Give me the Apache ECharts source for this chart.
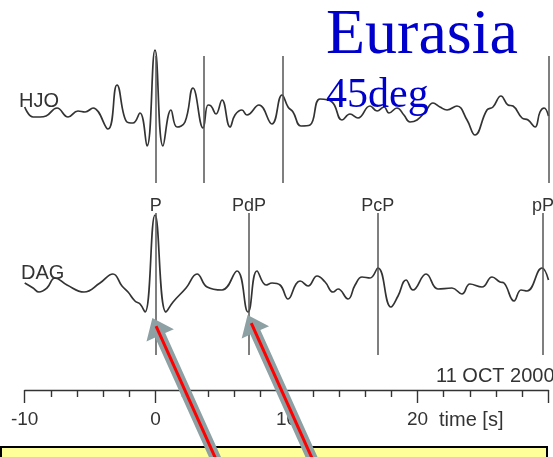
<!DOCTYPE html>
<html>
<head>
<meta charset="utf-8">
<script src="https://cdn.jsdelivr.net/npm/echarts@6/dist/echarts.min.js"></script>
<style>
  html, body { margin: 0; padding: 0; background: #fff; }
  #chart { width: 553px; height: 457px; }
</style>
</head>
<body>
<div id="chart"></div>
<script>
// Time axis (seconds relative to P arrival)
const timeMin = -10;
const timeMax = 30;
const tickLabels = ['-10', '0', '10', '20'];

// Station HJO: sample times (s) and amplitudes (arbitrary counts)
const hjoTime = [-10.0, -9.36, -8.83, -8.37, -7.53, -6.69, -5.93, -5.39, -4.78, -3.64,
  -2.95, -2.19, -1.73, -1.20, -0.66, -0.05, 0.56, 1.17, 1.63, 2.24,
  2.85, 3.62, 4.00, 4.23, 4.61, 5.07, 5.68, 6.06, 6.59, 6.97,
  7.89, 8.88, 9.65, 10.11, 10.49, 11.10, 11.79, 12.55, 13.47, 14.23,
  14.84, 15.45, 16.37, 16.91, 17.44, 17.82, 18.43, 18.96, 19.42, 19.96,
  20.57, 21.18, 21.71, 22.25, 23.01, 23.78, 24.39, 25.30, 25.76, 26.37,
  26.91, 27.29, 27.98, 28.44, 28.97, 29.35, 29.66, 30.0];
const hjoAmp = [8, -2, -2, -1, 7, -2, 4, 3, 7, -14,
  30, -7, -8, 2, -31, 65, -31, 5, -12, -7,
  27, -13, 10, 9, 1, 15, -12, 0, 5, 0,
  10, -9, 20, 8, 3, -11, -10, 16, 13, -5,
  1, -3, 9, 4, 8, 2, 7, 0, -7, -5,
  3, 12, 8, 5, 9, -5, -20, 5, 8, 19,
  10, 9, -3, -5, -12, 3, 7, -1];

// Station DAG: sample times (s) and amplitudes (arbitrary counts)
const dagTime = [-10.0, -9.36, -8.91, -8.30, -7.69, -6.77, -5.47, -4.25, -3.26, -2.57,
  -2.11, -1.58, -1.19, -0.81, -0.05, 0.79, 1.33, 2.32, 3.16, 3.93,
  5.07, 6.21, 7.05, 7.74, 8.43, 8.89, 9.50, 10.11, 10.72, 11.03,
  11.64, 12.33, 12.94, 13.55, 13.93, 14.69, 15.23, 15.76, 16.37, 16.98,
  17.97, 18.51, 19.12, 19.65, 20.65, 21.56, 22.63, 23.39, 24.00, 24.92,
  25.69, 26.30, 26.60, 27.37, 27.90, 28.36, 29.50, 30.0];
const dagAmp = [7, 2, -2, 2, 12, 5, -2, 7, 16, 4,
  -2, -11, -14, -22, 75, -22, -12, 2, 16, 3,
  0, 19, -22, 19, 5, 7, 5, -9, 6, 9,
  4, 14, 8, -2, 1, -9, 5, 13, 12, 22,
  -17, -6, 10, 0, 16, 1, 2, -4, 6, 3,
  13, 8, 7, -11, 0, -1, 22, 10];

// Vertical offsets that stack the two traces
const hjoOffset = 275;
const dagOffset = 100;

// Phase picks (s)
const hjoPicks = [0, 3.66, 9.7, 30];
const dagPhaseNames = ['P', 'PdP', 'PcP', 'pP'];
const dagPhaseTimes = [0, 7.12, 16.97, 29.58];

// Extent of the pick bars around each trace (counts)
const hjoBar = [-68, 59];
const dagBar = [-65, 77];

const chart = echarts.init(document.getElementById('chart'), null, { renderer: 'canvas' });

const traceStyle = { color: '#333', width: 1.7 };
const pickStyle = { color: '#555', width: 1.5, type: 'solid' };
const sansFont = '"Liberation Sans", Arial, sans-serif';

function pairs(times, amps, offset) {
  return times.map((t, i) => [t, offset + amps[i]]);
}

const option = {
  animation: false,
  grid: { left: 24.7, right: 4.5, top: 0, bottom: 67 },
  xAxis: {
    type: 'value',
    min: timeMin,
    max: timeMax,
    interval: 10,
    axisLine: { lineStyle: { color: '#333', width: 1.4 } },
    axisTick: { length: 13, lineStyle: { color: '#333', width: 1.4 } },
    minorTick: { show: true, splitNumber: 5, length: 7, lineStyle: { color: '#333', width: 1.4 } },
    splitLine: { show: false },
    axisLabel: {
      margin: 20,
      fontSize: 19,
      fontFamily: sansFont,
      color: '#333',
      formatter: v => (tickLabels.indexOf(String(v)) >= 0 ? String(v) : '')
    }
  },
  yAxis: { type: 'value', min: 0, max: 390, show: false },
  series: [
    {
      name: 'HJO',
      type: 'line',
      data: pairs(hjoTime, hjoAmp, hjoOffset),
      smooth: 0.45,
      symbol: 'none',
      clip: false,
      lineStyle: traceStyle,
      markLine: {
        silent: true,
        symbol: 'none',
        lineStyle: pickStyle,
        label: { show: false },
        data: hjoPicks.map(t => [
          { coord: [t, hjoOffset + hjoBar[1]] },
          { coord: [t, hjoOffset + hjoBar[0]] }
        ])
      }
    },
    {
      name: 'DAG',
      type: 'line',
      data: pairs(dagTime, dagAmp, dagOffset),
      smooth: 0.45,
      symbol: 'none',
      clip: false,
      lineStyle: traceStyle,
      markLine: {
        silent: true,
        symbol: 'none',
        lineStyle: pickStyle,
        label: {
          show: true,
          position: 'start',
          distance: -2,
          fontSize: 18,
          fontFamily: sansFont,
          color: '#333',
          formatter: p => p.name
        },
        data: dagPhaseTimes.map((t, i) => [
          { name: dagPhaseNames[i], coord: [t, dagOffset + dagBar[1]] },
          { coord: [t, dagOffset + dagBar[0]] }
        ])
      }
    }
  ]
};

chart.setOption(option);

// Arrow from the bottom panel up to a pick on the DAG trace
function arrowShapes(tip) {
  const dir = [0.45, 1];
  const n = Math.hypot(dir[0], dir[1]);
  const u = [dir[0] / n, dir[1] / n];
  const p = [-u[1], u[0]];
  const len = (462 - tip[1]) / u[1];
  const headLen = 19, headHalf = 15, shaftHalf = 5.5;
  const at = (d, w) => [tip[0] + u[0] * d + p[0] * w, tip[1] + u[1] * d + p[1] * w];
  const body = [
    tip, at(headLen, headHalf), at(headLen, shaftHalf), at(len, shaftHalf),
    at(len, -shaftHalf), at(headLen, -shaftHalf), at(headLen, -headHalf)
  ];
  return [
    { type: 'polygon', z: 100, shape: { points: body }, style: { fill: '#8da0a4' } },
    {
      type: 'line', z: 101,
      shape: { x1: at(9, 0)[0], y1: at(9, 0)[1], x2: at(len - 4, 0)[0], y2: at(len - 4, 0)[1] },
      style: { stroke: '#ff0000', lineWidth: 3 }
    }
  ];
}

const arrowTips = [
  [dagPhaseTimes[0] - 0.25, dagOffset - 28],
  [dagPhaseTimes[1] - 0.1, dagOffset - 25]
].map(c => chart.convertToPixel({ gridIndex: 0 }, c));

const graphics = [
  { type: 'rect', z: 90, shape: { x: 1, y: 447, width: 546, height: 30 },
    style: { fill: '#ffff99', stroke: '#000', lineWidth: 2 } },
  { type: 'text', z: 95, left: 19, top: 91,
    style: { text: 'HJO', font: '20px ' + sansFont, fill: '#333' } },
  { type: 'text', z: 95, left: 21, top: 263,
    style: { text: 'DAG', font: '20px ' + sansFont, fill: '#333' } },
  { type: 'text', z: 95, left: 436, top: 366,
    style: { text: '11 OCT 2000', font: '20px ' + sansFont, fill: '#333' } },
  { type: 'text', z: 95, left: 439, top: 410,
    style: { text: 'time [s]', font: '20px ' + sansFont, fill: '#333' } },
  { type: 'text', z: 110, left: 326, top: 4,
    style: { text: 'Eurasia', font: '64px "Liberation Serif", "Times New Roman", serif', fill: '#0000cc' } },
  { type: 'text', z: 110, left: 326, top: 75,
    style: { text: '45deg', font: '42px "Liberation Serif", "Times New Roman", serif', fill: '#0000cc' } }
];
arrowTips.forEach(t => { graphics.push(...arrowShapes(t)); });

chart.setOption({ graphic: graphics });
</script>
</body>
</html>
